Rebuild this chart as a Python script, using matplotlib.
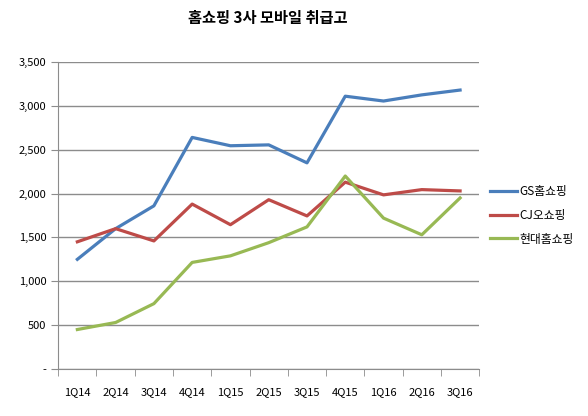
import numpy as np
import matplotlib
matplotlib.use('Agg')
import matplotlib.pyplot as plt
from matplotlib.ticker import FuncFormatter, MultipleLocator

plt.rcParams['font.family'] = ['Noto Sans CJK KR', 'DejaVu Sans']

quarters = ['1Q14', '2Q14', '3Q14', '4Q14', '1Q15', '2Q15', '3Q15',
            '4Q15', '1Q16', '2Q16', '3Q16']
gs = [1250, 1600, 1860, 2640, 2545, 2555, 2350, 3110, 3055, 3125, 3180]
cj = [1450, 1600, 1460, 1880, 1645, 1930, 1745, 2130, 1985, 2045, 2030]
hyundai = [450, 530, 745, 1215, 1290, 1440, 1620, 2200, 1720, 1530, 1950]
names = ['GS홈쇼핑', 'CJ오쇼핑', '현대홈쇼핑']
colors = ['#4A7EBB', '#BE4B48', '#98B954']

fig = plt.figure(figsize=(5.88, 4.16), dpi=100)
ax = fig.add_axes([0.099, 0.113, 0.716, 0.738])

x = np.arange(len(quarters))
for vals, name, c in zip([gs, cj, hyundai], names, colors):
    ax.plot(x, vals, color=c, lw=2.3, label=name)

ax.set_xlim(-0.5, len(quarters) - 0.5)
ax.set_ylim(0, 3500)
ax.yaxis.set_major_locator(MultipleLocator(500))
ax.yaxis.set_major_formatter(FuncFormatter(lambda v, p: '-' if v == 0 else f'{int(v):,}'))
ax.grid(axis='y', color='#8c8c8c', lw=1)
ax.set_axisbelow(True)

ax.set_xticks(x)
ax.set_xticklabels(quarters)
ax.set_xticks(np.arange(-0.5, len(quarters)), minor=True)
ax.tick_params(axis='x', which='major', length=0, pad=13, labelsize=8)
ax.tick_params(axis='x', which='minor', length=5, color='#8c8c8c')
ax.tick_params(axis='y', length=5, color='#8c8c8c', labelsize=8)

for s in ['top', 'right']:
    ax.spines[s].set_visible(False)
for s in ['left', 'bottom']:
    ax.spines[s].set_color('#8c8c8c')

fig.suptitle('홈쇼핑 3사 모바일 취급고', x=0.455, y=0.975, fontsize=11, fontweight='bold')
ax.legend(loc='center left', bbox_to_anchor=(1.0, 0.5), frameon=False,
          fontsize=8.5, handlelength=2.3, handletextpad=0.2, labelspacing=0.9)

fig.savefig('out.png', dpi=100)
